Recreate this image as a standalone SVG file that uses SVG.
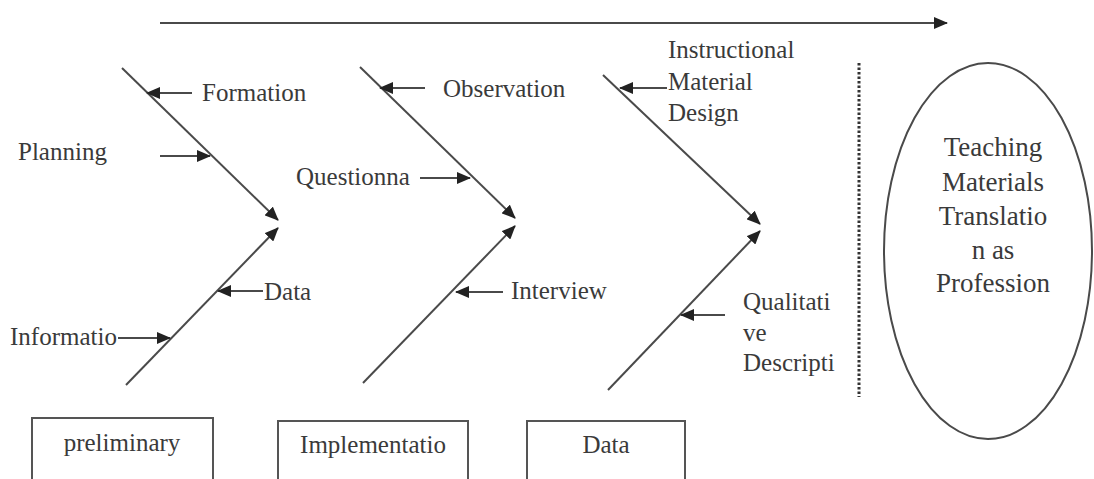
<svg xmlns="http://www.w3.org/2000/svg" width="1094" height="479" viewBox="0 0 1094 479">
<style>
.ln{stroke:#4a4a4a;stroke-width:2;fill:none}
.ar{stroke:#4a4a4a;stroke-width:2;fill:none;marker-end:url(#ah)}
.t{font-size:25px}
.tc{font-size:25px;text-anchor:middle}
.te{font-size:27px;text-anchor:middle}
.box{stroke:#555;stroke-width:2;fill:#fff}
</style>
<defs>
<marker id="ah" markerUnits="userSpaceOnUse" markerWidth="14" markerHeight="12" refX="13" refY="6" orient="auto">
<path d="M0,0 L14,6 L0,12 Z" fill="#222"/>
</marker>
</defs>
<rect width="1094" height="479" fill="#fff"/>
<g id="connectors">
<line class="ar" x1="160" y1="23" x2="947" y2="23"/>
<line class="ar" x1="122" y1="68" x2="278" y2="220"/>
<line class="ar" x1="126" y1="385" x2="278" y2="228"/>
<line class="ar" x1="360" y1="67" x2="515" y2="218"/>
<line class="ar" x1="363" y1="383" x2="515" y2="226"/>
<line class="ar" x1="603" y1="75" x2="760" y2="224"/>
<line class="ar" x1="608" y1="390" x2="760" y2="231"/>
<line class="ar" x1="192" y1="93" x2="147" y2="93"/>
<line class="ar" x1="160" y1="156" x2="210" y2="156"/>
<line class="ar" x1="263" y1="291" x2="218" y2="291"/>
<line class="ar" x1="118" y1="338" x2="170" y2="338"/>
<line class="ar" x1="425" y1="88" x2="380" y2="88"/>
<line class="ar" x1="420" y1="178" x2="470" y2="178"/>
<line class="ar" x1="503" y1="292" x2="456" y2="292"/>
<line class="ar" x1="667" y1="88" x2="620" y2="88"/>
<line class="ar" x1="725" y1="315" x2="681" y2="315"/>
<line x1="859" y1="63" x2="859" y2="397" stroke="#333" stroke-width="3" stroke-dasharray="2.5 2"/>
</g>
<g font-family="Liberation Serif, Times New Roman, serif" fill="#3a3a3a">
<g id="label-formation"><text class="t" x="202" y="101">Formation</text></g>
<g id="label-planning"><text class="t" x="18" y="160">Planning</text></g>
<g id="label-data1"><text class="t" x="264" y="300">Data</text></g>
<g id="label-informatio"><text class="t" x="10" y="345">Informatio</text></g>
<g id="label-observation"><text class="t" x="443" y="97">Observation</text></g>
<g id="label-questionna"><text class="t" x="296" y="185">Questionna</text></g>
<g id="label-interview"><text class="t" x="511" y="299">Interview</text></g>
<g id="label-instructional">
<text class="t" x="668" y="58">Instructional</text>
<text class="t" x="668" y="90">Material</text>
<text class="t" x="668" y="121">Design</text>
</g>
<g id="label-qualitative">
<text class="t" x="743" y="310">Qualitati</text>
<text class="t" x="743" y="341">ve</text>
<text class="t" x="743" y="371">Descripti</text>
</g>
<g id="goal">
<ellipse cx="988" cy="251" rx="104" ry="188" class="ln"/>
<text class="te" x="993" y="156">Teaching</text>
<text class="te" x="993" y="191">Materials</text>
<text class="te" x="993" y="225">Translatio</text>
<text class="te" x="993" y="259">n as</text>
<text class="te" x="993" y="292">Profession</text>
</g>
<g id="box-preliminary">
<rect class="box" x="32" y="418" width="181" height="80"/>
<text class="tc" x="122" y="451">preliminary</text>
</g>
<g id="box-implementatio">
<rect class="box" x="278" y="421" width="190" height="80"/>
<text class="tc" x="373" y="453">Implementatio</text>
</g>
<g id="box-data">
<rect class="box" x="527" y="421" width="158" height="80"/>
<text class="tc" x="606" y="453">Data</text>
</g>
</g>
</svg>
